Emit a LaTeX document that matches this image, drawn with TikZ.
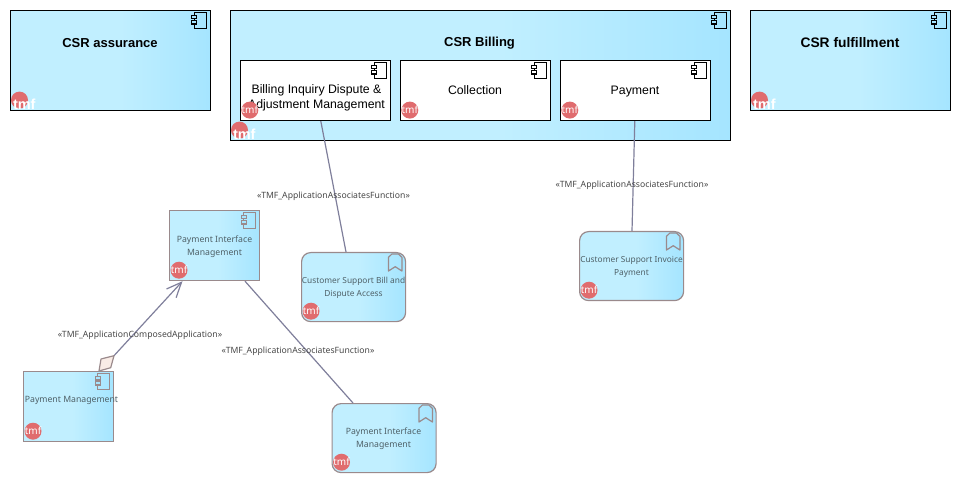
\documentclass[tikz,border=0pt]{standalone}
\usepackage{fontspec}
\setmainfont{Liberation Sans}
\newfontfamily\smallfont{Noto Sans}
\usetikzlibrary{arrows.meta,calc}
\definecolor{fillA}{HTML}{C1EFFF}
\definecolor{fillB}{HTML}{A5E5FF}
\definecolor{edgeG}{HTML}{9A8A8C}
\definecolor{lineG}{HTML}{7F7F9B}
\definecolor{tmfRed}{HTML}{E06C6E}
\definecolor{smallTxt}{HTML}{4F6168}
\definecolor{diaFill}{HTML}{F9ECE6}
\pgfdeclarehorizontalshading{boxfade}{100bp}{color(0bp)=(fillA);color(25bp)=(fillA);color(52bp)=(fillA);color(75bp)=(fillB);color(100bp)=(fillB)}
\tikzset{
  x=1pt,y=-1pt,
  bigbox/.style={draw=black,line width=1.1pt,shading=boxfade,shading angle=0,anchor=north west,inner sep=0pt},
  innerbox/.style={draw=black,line width=1.1pt,fill=white,anchor=north west,inner sep=0pt,minimum width=150pt,minimum height=60pt},
  smallbox/.style={draw=edgeG,line width=1.2pt,shading=boxfade,anchor=north west,inner sep=0pt,minimum width=90pt,minimum height=70pt},
  funcbox/.style={draw=edgeG,line width=1.2pt,shading=boxfade,anchor=north west,inner sep=0pt,rounded corners=9pt,minimum width=104pt,minimum height=69pt},
  bigtitle/.style={font=\fontsize{13}{15}\selectfont\bfseries,text=black,align=center,inner sep=0pt},
  midtitle/.style={font=\fontsize{12.3}{15}\selectfont,text=black,align=center,inner sep=0pt},
  smalltitle/.style={font=\smallfont\fontsize{8.7}{13}\selectfont,text=smallTxt,align=center,inner sep=0pt},
  narrowtitle/.style={font=\smallfont\fontsize{8.35}{13}\selectfont,text=smallTxt,align=center,inner sep=0pt},
  linktext/.style={font=\smallfont\fontsize{8.65}{10}\selectfont,text=black!72,inner sep=0pt},
  link/.style={draw=lineG,line width=1.2pt},
  tmfdot/.style={circle,fill=tmfRed,minimum size=17pt,inner sep=0pt},
  tmfbig/.style={font=\fontsize{14.5}{14}\selectfont\bfseries,text=white,inner sep=0pt},
  tmfsmall/.style={font=\smallfont\fontsize{10}{10}\selectfont,text=white,inner sep=0pt},
}
\newcommand{\compicon}[4]{%
  \draw[#2,line width=#3] ([shift={(-16.5,2.7)}]#1.north east) rectangle ([shift={(-4.5,18.7)}]#1.north east);
  \draw[#2,line width=#3,fill=#4] ([shift={(-19,5.7)}]#1.north east) rectangle ([shift={(-14,8.9)}]#1.north east);
  \draw[#2,line width=#3,fill=#4] ([shift={(-19,10.7)}]#1.north east) rectangle ([shift={(-14,14)}]#1.north east);
}
\newcommand{\markicon}[1]{%
  \draw[edgeG,line width=1.2pt,line join=round] ([shift={(-17.7,5.3)}]#1.north east) -- ([shift={(-14.3,2)}]#1.north east) -- ([shift={(-7.7,2)}]#1.north east) -- ([shift={(-4.3,5.3)}]#1.north east) -- ([shift={(-4.3,19)}]#1.north east) -- ([shift={(-11,14.7)}]#1.north east) -- ([shift={(-17.7,19)}]#1.north east) -- cycle;
}
\newcommand{\tmfA}[2]{% large mark on top-level boxes
  \node[tmfdot] (#1dot) at ([shift={(9.7,-11)}]#2.south west) {};
  \node[tmfbig] (#1txt) at ([shift={(14.5,-6.5)}]#2.south west) {tmf};
}
\newcommand{\tmfB}[2]{% small mark
  \node[tmfdot] (#1dot) at ([shift={(10,-11)}]#2.south west) {};
  \node[tmfsmall] (#1txt) at (#1dot) {tmf};
}
\begin{document}
\begin{tikzpicture}
\useasboundingbox (0,0) rectangle (960,502);
% top level boxes
\node[bigbox,minimum width=200pt,minimum height=100pt] (assur) at (9.8,10) {};
\node[bigbox,minimum width=500pt,minimum height=130pt] (bill) at (229.8,10) {};
\node[bigbox,minimum width=200pt,minimum height=100pt] (fulf) at (749.8,10) {};
\node[bigtitle] (assurT) at (110,42.7) {CSR assurance};
\node[bigtitle] (billT) at (479.5,42.7) {CSR Billing};
\node[bigtitle,font=\fontsize{13.8}{15}\selectfont\bfseries] (fulfT) at (850,42.7) {CSR fulfillment};
% inner boxes
\node[innerbox] (inq) at (239.8,60) {};
\node[innerbox] (coll) at (399.8,60) {};
\node[innerbox] (pay) at (559.8,60) {};
\node[midtitle] (inqT) at (316.5,97.7) {Billing Inquiry Dispute \&\\Adjustment Management};
\node[midtitle] (collT) at (475,90) {Collection};
\node[midtitle] (payT) at (635,91.5) {Payment};
% small boxes
\node[smallbox] (pim) at (169,210) {};
\node[smallbox] (pm) at (23,371) {};
\node[funcbox] (csb) at (301,252) {};
\node[funcbox] (csi) at (579,231) {};
\node[funcbox] (pimf) at (331.5,403) {};
\node[smalltitle] (pimT) at (214.5,246.3) {Payment Interface\\Management};
\node[smalltitle] (pmT) at (71.5,400.8) {Payment Management};
\node[narrowtitle] (csbT) at (353.5,288.3) {Customer Support Bill and\\Dispute Access};
\node[narrowtitle] (csiT) at (631.5,266.8) {Customer Support Invoice\\Payment};
\node[smalltitle] (pimfT) at (383.5,438.8) {Payment Interface\\Management};
% icons
\foreach \n in {assur,bill,fulf} {\compicon{\n}{black}{1.1pt}{fillB}}
\foreach \n in {inq,coll,pay} {\compicon{\n}{black}{1.1pt}{white}}
\foreach \n in {pim,pm} {\compicon{\n}{edgeG}{1.2pt}{fillB}}
\foreach \n in {csb,csi,pimf} {\markicon{\n}}
\tmfA{ta}{assur}
\tmfA{tb}{bill}
\tmfA{tc}{fulf}
\tmfB{td}{inq}
\tmfB{te}{coll}
\tmfB{tf}{pay}
\tmfB{tg}{pim}
\tmfB{th}{pm}
\tmfB{ti}{csb}
\tmfB{tj}{csi}
\tmfB{tk}{pimf}
% connectors
\draw[link] ([xshift=81pt]inq.south west) -- ([xshift=45pt]csb.north west);
\draw[link] ([xshift=75pt]pay.south west) -- ([xshift=53pt]csi.north west);
\draw[link] ([xshift=76pt]pim.south west) -- ([xshift=21.5pt]pimf.north west);
\coordinate (dtop) at ([shift={(91,-15.3)}]pm.north west);
\draw[link,-{Straight Barb[length=15pt,width=13pt,line width=1.2pt]}] (dtop) -- ([xshift=13.5pt]pim.south west);
\draw[draw=edgeG,line width=1.2pt,fill=diaFill,line join=round] ([xshift=76pt]pm.north west) -- ([shift={(78,-12)}]pm.north west) -- (dtop) -- ([shift={(87.7,-3.3)}]pm.north west) -- cycle;
% link labels
\node[linktext] (l1) at (333.5,196.5) {«TMF\_ApplicationAssociatesFunction»};
\node[linktext] (l2) at (632,185.5) {«TMF\_ApplicationAssociatesFunction»};
\node[linktext] (l3) at (298,351.5) {«TMF\_ApplicationAssociatesFunction»};
\node[linktext] (l4) at (140,335) {«TMF\_ApplicationComposedApplication»};
\end{tikzpicture}
\end{document}
